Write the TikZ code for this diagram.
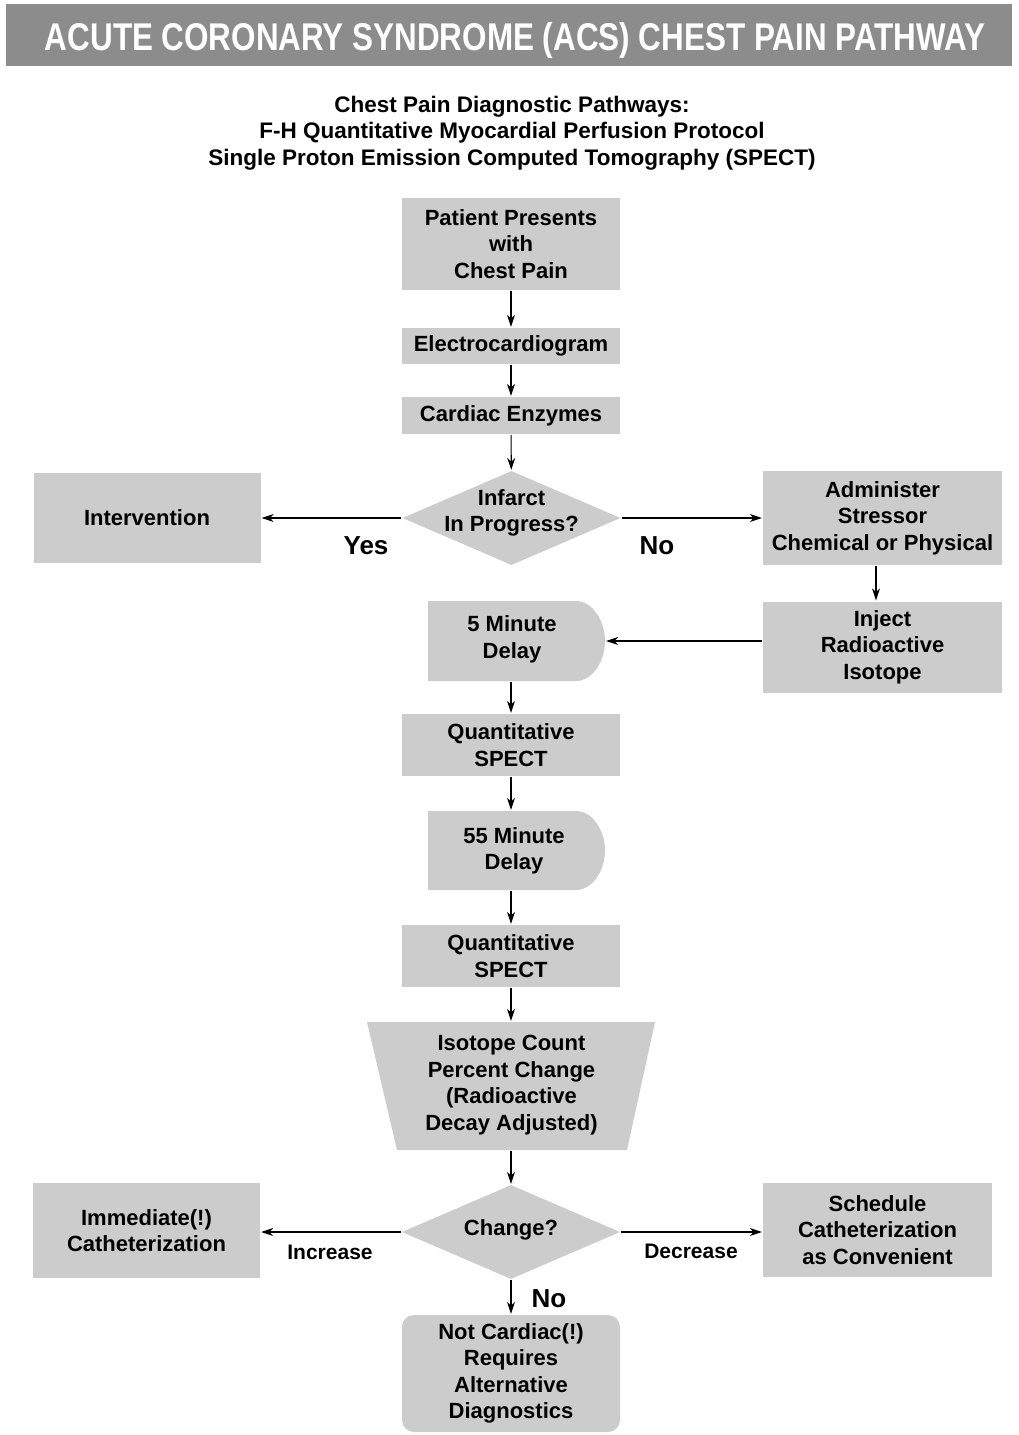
\documentclass[tikz,border=0pt]{standalone}
\usepackage{fontspec}
\setmainfont{Liberation Sans}
\usepackage{graphicx}
\usetikzlibrary{shapes.geometric,arrows.meta}
\definecolor{boxgray}{gray}{0.80}
\definecolor{bargray}{gray}{0.55}
\newcommand\myboxfont{\fontsize{22}{26.5}\selectfont\bfseries}
\newcommand\mybigfont{\fontsize{26}{30}\selectfont\bfseries}
\newcommand\mylblfont{\fontsize{21}{25}\selectfont\bfseries}
\begin{document}
\begin{tikzpicture}[x=1pt,y=-1pt,
  box/.style={fill=boxgray, inner sep=0pt, align=center, font=\myboxfont},
  txt/.style={inner sep=0pt, align=center, font=\myboxfont},
  dia/.style={diamond, fill=boxgray, inner sep=0pt},
  arr/.style={-{Stealth[length=12pt,width=8pt]}, line width=1.1pt, shorten >=1pt, shorten <=1pt},
  lbl/.style={inner sep=0pt, font=\mylblfont},
  big/.style={inner sep=0pt, font=\mybigfont}]
\fill[white] (0,0) rectangle (1018,1435);
\useasboundingbox (0,0) rectangle (1018,1435);

% title bar
\fill[bargray] (6,4) rectangle (1012,66);
\node[inner sep=0pt, text=white, anchor=base] (title) at (515,50)
  {\resizebox{940pt}{28pt}{\bfseries ACUTE CORONARY SYNDROME (ACS) CHEST PAIN PATHWAY}};

% header
\node[inner sep=0pt, align=center, font=\fontsize{22.5}{26.5}\selectfont\bfseries] (head) at (512,133)
  {Chest Pain Diagnostic Pathways:\\F-H Quantitative Myocardial Perfusion Protocol\\Single Proton Emission Computed Tomography (SPECT)};

% main column
\node[box, minimum width=218pt, minimum height=92pt] (pat) at (511,244) {Patient Presents\\with\\Chest Pain};
\node[box, minimum width=218pt, minimum height=36pt] (ecg) at (511,346) {Electrocardiogram};
\node[box, minimum width=218pt, minimum height=37pt] (enz) at (511,415.5) {Cardiac Enzymes};

\node[dia, minimum width=218pt, minimum height=94pt] (inf) at (511.5,518) {};
\node[txt] (inft) at (511.5,513) {Infarct\\In Progress?};

\node[box, minimum width=227pt, minimum height=90pt] (intv) at (147,518) {Intervention};
\node[box, minimum width=239pt, minimum height=94pt] (adm) at (882.5,518) {Administer\\Stressor\\Chemical or Physical};
\node[box, minimum width=239pt, minimum height=91pt] (inj) at (882.5,647) {Inject\\Radioactive\\Isotope};

% 5 minute delay
\fill[boxgray] (428,601) -- (576,601) .. controls (592,601) and (605,620) .. (605,641)
  .. controls (605,662) and (592,681) .. (576,681) -- (428,681) -- cycle;
\node[txt, minimum width=177pt, minimum height=80pt] (d5) at (516.5,641) {};
\node[txt] (d5t) at (512,639.5) {5 Minute\\Delay};

\node[box, minimum width=218pt, minimum height=62pt] (q1) at (511,745) {Quantitative\\SPECT};

% 55 minute delay
\fill[boxgray] (428,811) -- (576,811) .. controls (592,811) and (605,830) .. (605,850.5)
  .. controls (605,871) and (592,890) .. (576,890) -- (428,890) -- cycle;
\node[txt, minimum width=177pt, minimum height=79pt] (d55) at (516.5,850.5) {};
\node[txt] (d55t) at (514,851) {55 Minute\\Delay};

\node[box, minimum width=218pt, minimum height=62pt] (q2) at (511,956) {Quantitative\\SPECT};

% trapezoid
\fill[boxgray] (367,1022) -- (655,1022) -- (627,1150) -- (397,1150) -- cycle;
\node[txt, minimum width=230pt, minimum height=128pt] (iso) at (511,1086) {};
\node[txt] (isot) at (511.5,1085) {Isotope Count\\Percent Change\\(Radioactive\\Decay Adjusted)};

\node[dia, minimum width=218pt, minimum height=94pt] (chg) at (511,1232) {};
\node[txt] (chgt) at (511,1230) {Change?};

\node[box, minimum width=227pt, minimum height=95pt] (imm) at (146.5,1230.5) {Immediate(!)\\Catheterization};
\node[box, minimum width=229pt, minimum height=94pt] (sch) at (877.5,1230) {Schedule\\Catheterization\\as Convenient};
\node[box, rounded corners=12pt, minimum width=218pt, minimum height=117pt] (nc) at (511,1373.5) {Not Cardiac(!)\\Requires\\Alternative\\Diagnostics};

% connectors
\draw[arr] (pat) -- (ecg);
\draw[arr] (ecg) -- (enz);
\draw[arr] (enz) -- (inf);
\draw[arr] (inf.west) -- (inf.west -| intv.east);
\draw[arr] (inf.east) -- (inf.east -| adm.west);
\draw[arr] ([xshift=-6.5pt]adm.south) -- ([xshift=-6.5pt]adm.south |- inj.north);
\draw[arr] (inj.west |- d5.east) -- (d5.east);
\draw[arr] (d5.south -| q1.north) -- (q1.north);
\draw[arr] (q1.south) -- (d55.north -| q1.south);
\draw[arr] (d55.south -| q2.north) -- (q2.north);
\draw[arr] (q2.south) -- (iso.north -| q2.south);
\draw[arr] (iso.south) -- (chg.north);
\draw[arr] (chg.west) -- (chg.west -| imm.east);
\draw[arr] (chg.east) -- (chg.east -| sch.west);
\draw[arr] (chg.south) -- (chg.south |- nc.north);

% labels
\node[big] (yes) at (366,546) {Yes};
\node[big] (no1) at (657,546) {No};
\node[lbl] (inc) at (330,1252) {Increase};
\node[lbl] (dec) at (691,1251) {Decrease};
\node[big] (no2) at (549,1299) {No};
\end{tikzpicture}
\end{document}
